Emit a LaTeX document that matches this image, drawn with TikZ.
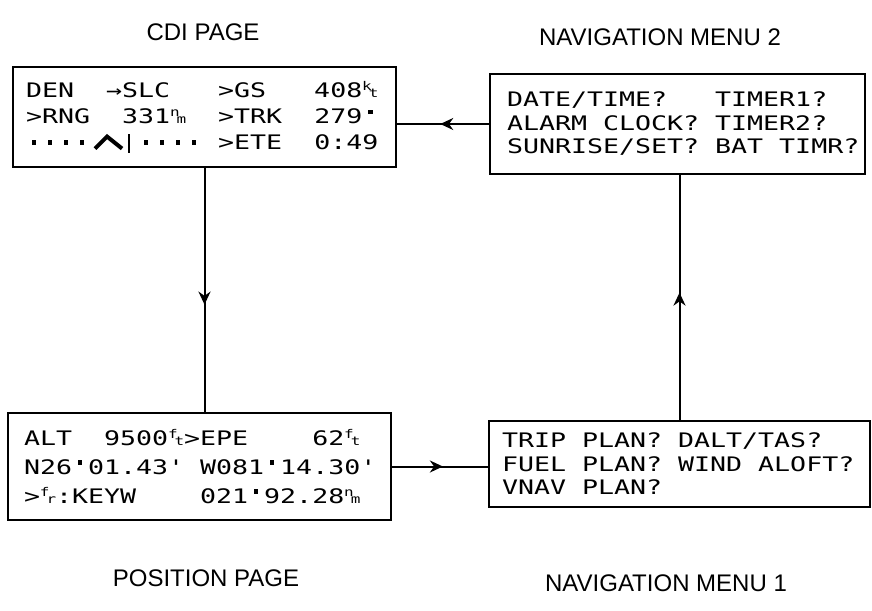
\documentclass[tikz,border=0pt]{standalone}
\usepackage{fontspec}
\usepackage{tikz}
\usetikzlibrary{arrows.meta,positioning,decorations.markings}
\setmainfont{Liberation Sans}
\newfontfamily\lcdfont[FakeStretch=1.33]{DejaVu Sans Mono}
% one character cell of the display
\newlength{\cw}
\newcommand{\lcdcell}[2][1]{\settowidth{\cw}{0}\makebox[#1\cw]{#2}}
% ~ is one blank cell inside the display pages
\newcommand{\lcd}[2]{\lcdfont\fontsize{#1}{#2}\selectfont\def~{\lcdcell{}}}
\newcommand{\unitstk}[2]{\lcdcell{\fontsize{12}{12}\selectfont\raisebox{7pt}{#1}\kern-3pt#2}}
\newcommand{\lcddeg}{\lcdcell{\raisebox{9.5pt}{\rule{4.5pt}{4.5pt}}}}
\newcommand{\cdidot}{\lcdcell{\raisebox{5pt}{\rule{3.5pt}{5pt}}}}
\newcommand{\cdineedle}{\lcdcell[3]{\kern3pt\tikz[baseline=0pt,x=1pt,y=1pt]
  \draw[line width=4pt,line join=miter] (0,1) -- (12,13) -- (27,1);\kern4pt
  \rule[-3pt]{2pt}{19pt}\hfill}}

\begin{document}
\begin{tikzpicture}[
  x=1pt, y=-1pt,
  lcdbox/.style={draw, line width=2pt, anchor=north west, align=left, inner sep=0pt},
  caption/.style={anchor=base, inner sep=0pt, font=\fontsize{24}{28}\selectfont},
  link/.style={line width=2pt},
  midarrow/.style={decoration={markings,
      mark=at position #1 with {\arrow{Stealth[length=13pt,width=12pt]}}},
    postaction={decorate}}
]
\useasboundingbox (0,0) rectangle (872,610);

% display pages
\node[lcdbox, minimum width=383pt, minimum height=100pt, text width=357pt,
  font=\lcd{20}{26}] (cdi) at (12,66)
  {DEN~~→SLC~~~>GS~~~408\unitstk{k}{t}\\
   >RNG~~331\unitstk{n}{m}~~>TRK~~279\lcddeg\\
   \cdidot\cdidot\cdidot\cdidot\cdineedle\cdidot\cdidot\cdidot\cdidot~>ETE~~0:49};
\node[lcdbox, minimum width=375pt, minimum height=100pt, text width=341pt,
  font=\lcd{20}{23.5}] (nav2) at (489,73)
  {DATE/TIME?~~~TIMER1?\\
   ALARM~CLOCK?~TIMER2?\\
   SUNRISE/SET?~BAT~TIMR?};
\node[lcdbox, minimum width=383pt, minimum height=107pt, text width=351pt,
  font=\lcd{20}{29}] (pos) at (7,412)
  {ALT~~9500\unitstk{f}{t}>EPE~~~~62\unitstk{f}{t}\\
   N26\lcddeg 01.43'~W081\lcddeg 14.30'\\
   >\unitstk{f}{r}:KEYW~~~~021\lcddeg 92.28\unitstk{n}{m}};
\node[lcdbox, minimum width=381pt, minimum height=86pt, text width=355pt,
  font=\lcd{20}{23.5}] (nav1) at (488,420)
  {TRIP~PLAN?~DALT/TAS?\\
   FUEL~PLAN?~WIND~ALOFT?\\
   VNAV~PLAN?};

% page titles
\node[caption] (cdicap) at (203,41) {CDI PAGE};
\node[caption] (nav2cap) at (660,46) {NAVIGATION MENU 2};
\node[caption] (poscap) at (206,586) {POSITION PAGE};
\node[caption] (nav1cap) at (666,591) {NAVIGATION MENU 1};

% page sequence
\draw[link, midarrow=0.56] (cdi.south) -- (cdi.south |- pos.north);
\draw[link, midarrow=0.53] (pos.east) -- (pos.east -| nav1.west);
\draw[link, midarrow=0.52] (nav1.north) -- (nav1.north |- nav2.south);
\draw[link, midarrow=0.53] (nav2.west) -- (nav2.west -| cdi.east);
\end{tikzpicture}
\end{document}
